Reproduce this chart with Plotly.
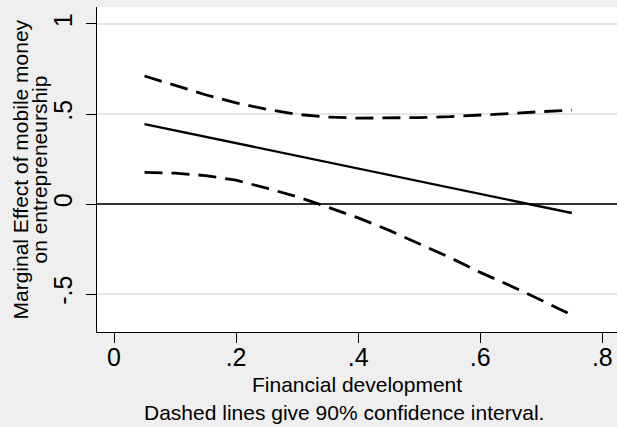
import plotly.graph_objects as go

# Values
fin_dev = [0.05, 0.10, 0.15, 0.20, 0.25, 0.30, 0.35, 0.40, 0.45, 0.50, 0.55, 0.60, 0.65, 0.70, 0.75]
marginal_effect = [0.444, 0.409, 0.373, 0.338, 0.303, 0.267, 0.232, 0.197, 0.162, 0.126, 0.091, 0.056, 0.020, -0.015, -0.050]
upper_ci = [0.711, 0.657, 0.607, 0.562, 0.526, 0.498, 0.483, 0.477, 0.477, 0.480, 0.485, 0.492, 0.503, 0.513, 0.522]
lower_ci = [0.176, 0.171, 0.158, 0.132, 0.088, 0.040, -0.017, -0.077, -0.145, -0.222, -0.297, -0.380, -0.455, -0.535, -0.617]

x_ticks = [0, 0.2, 0.4, 0.6, 0.8]
x_tick_labels = ["0", ".2", ".4", ".6", ".8"]
y_ticks = [-0.5, 0, 0.5, 1]
y_tick_labels = ["-.5", "0", ".5", "1"]

FONT = "Liberation Sans, Arial, sans-serif"

fig = go.Figure()
fig.add_trace(go.Scatter(x=fin_dev, y=marginal_effect, mode="lines",
                         line=dict(color="black", width=2.3), showlegend=False))
fig.add_trace(go.Scatter(x=fin_dev, y=upper_ci, mode="lines",
                         line=dict(color="black", width=2.8, dash="18px,9px"), showlegend=False))
fig.add_trace(go.Scatter(x=fin_dev, y=lower_ci, mode="lines",
                         line=dict(color="black", width=2.8, dash="18px,9px"), showlegend=False))

fig.update_layout(
    width=617, height=427,
    margin=dict(l=97, r=0, t=7, b=95),
    paper_bgcolor="#efefef",
    plot_bgcolor="white",
    font=dict(family=FONT, color="black"),
    xaxis=dict(range=[-0.02785, 0.8240], tickvals=x_ticks, ticktext=x_tick_labels,
               showgrid=False, zeroline=False, showline=True, linecolor="black", linewidth=1.2,
               ticks="outside", ticklen=10, tickwidth=1.2, tickcolor="black",
               ticklabelstandoff=-7,
               tickfont=dict(size=25, family=FONT)),
    yaxis=dict(range=[-0.7111, 1.0944], tickvals=y_ticks, ticktext=y_tick_labels,
               showgrid=True, gridcolor="#e4e4e4", gridwidth=1.5,
               zeroline=True, zerolinecolor="#333333", zerolinewidth=2,
               showline=True, linecolor="black", linewidth=1.2,
               ticks="outside", ticklen=10, tickwidth=1.2, tickcolor="black",
               ticklabelstandoff=4,
               tickangle=-90, tickfont=dict(size=25, family=FONT)),
)

fig.add_annotation(text="Financial development", xref="paper", yref="paper", x=0.5, y=0,
                   yshift=-52, showarrow=False, xanchor="center", yanchor="middle",
                   font=dict(size=21, family=FONT))
fig.add_annotation(text="Dashed lines give 90% confidence interval.", xref="paper", yref="paper",
                   x=(344 - 97) / 520, y=0, yshift=-80, showarrow=False,
                   xanchor="center", yanchor="middle", font=dict(size=21, family=FONT))
fig.add_annotation(text="Marginal Effect of mobile money", xref="paper", yref="paper", x=0, y=0.5,
                   xshift=-77, showarrow=False, xanchor="center", yanchor="middle",
                   textangle=-90, font=dict(size=21, family=FONT))
fig.add_annotation(text="on entrepreneurship", xref="paper", yref="paper", x=0, y=0.5,
                   xshift=-58, showarrow=False, xanchor="center", yanchor="middle",
                   textangle=-90, font=dict(size=21, family=FONT))

fig.write_html("out.html", config={"displayModeBar": False},
               post_script="document.body.style.margin='0';document.body.style.overflow='hidden';")
